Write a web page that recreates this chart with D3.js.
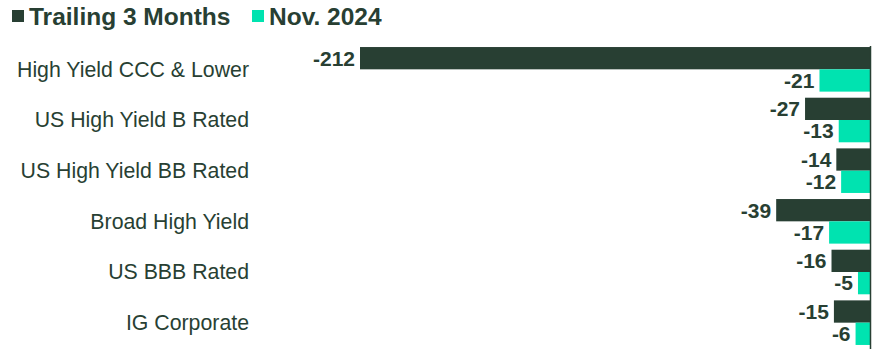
<!DOCTYPE html>
<html>
<head>
<meta charset="utf-8">
<script src="https://cdn.jsdelivr.net/npm/d3@7"></script>
<style>
  body { margin: 0; background: #fff; }
  text { font-family: "Liberation Sans", Arial, sans-serif; }
</style>
</head>
<body>
<div id="chart"></div>
<script>
// chart data
const categories = [
  'High Yield CCC & Lower',
  'US High Yield B Rated',
  'US High Yield BB Rated',
  'Broad High Yield',
  'US BBB Rated',
  'IG Corporate'
]
const trailing3m = [-212, -27, -14, -39, -16, -15]
const nov2024 = [-21, -13, -12, -17, -5, -6]
const seriesNames = ['Trailing 3 Months', 'Nov. 2024']

const colors = ['#283f33', '#00e3b0']
const width = 875
const height = 349

const svg = d3.select('#chart').append('svg')
  .attr('width', width)
  .attr('height', height)

const x = d3.scaleLinear().domain([-212, 0]).range([360, 870])
const y = d3.scaleBand().domain(categories).range([44, 348]).paddingInner(0.12).paddingOuter(0.06)
const sub = d3.scaleBand().domain([0, 1]).range([0, y.bandwidth()])

const rows = categories.map((c, i) => ({ cat: c, vals: [trailing3m[i], nov2024[i]] }))

// legend
const legend = svg.append('g')
const legendX = [12, 252]
seriesNames.forEach((name, i) => {
  legend.append('rect').attr('x', legendX[i]).attr('y', 10).attr('width', 12).attr('height', 12).attr('fill', colors[i])
  legend.append('text')
    .attr('x', legendX[i] + 17).attr('y', 24.5)
    .attr('font-size', 24.5).attr('font-weight', 'bold').attr('fill', '#283f33')
    .text(name)
})

// category labels
svg.append('g').selectAll('text').data(rows).join('text')
  .attr('x', 249)
  .attr('y', d => y(d.cat) + y.bandwidth() / 2)
  .attr('dy', '0.35em')
  .attr('text-anchor', 'end')
  .attr('font-size', 21.3)
  .attr('fill', '#283f33')
  .text(d => d.cat)

const groups = svg.append('g').selectAll('g').data(rows).join('g')
  .attr('transform', d => `translate(0,${y(d.cat)})`)

groups.selectAll('rect').data(d => d.vals).join('rect')
  .attr('x', v => x(v))
  .attr('y', (v, i) => sub(i))
  .attr('width', v => x(0) - x(v))
  .attr('height', sub.bandwidth())
  .attr('fill', (v, i) => colors[i])

groups.selectAll('text').data(d => d.vals).join('text')
  .attr('x', v => x(v) - 5)
  .attr('y', (v, i) => sub(i) + sub.bandwidth() / 2)
  .attr('dy', '0.35em')
  .attr('text-anchor', 'end')
  .attr('font-size', 21)
  .attr('font-weight', 'bold')
  .attr('fill', '#283f33')
  .text(v => v)

// zero line
svg.append('line')
  .attr('x1', x(0) + 0.5).attr('x2', x(0) + 0.5)
  .attr('y1', 46).attr('y2', height)
  .attr('stroke', '#283f33').attr('stroke-width', 1.5)
</script>
</body>
</html>
